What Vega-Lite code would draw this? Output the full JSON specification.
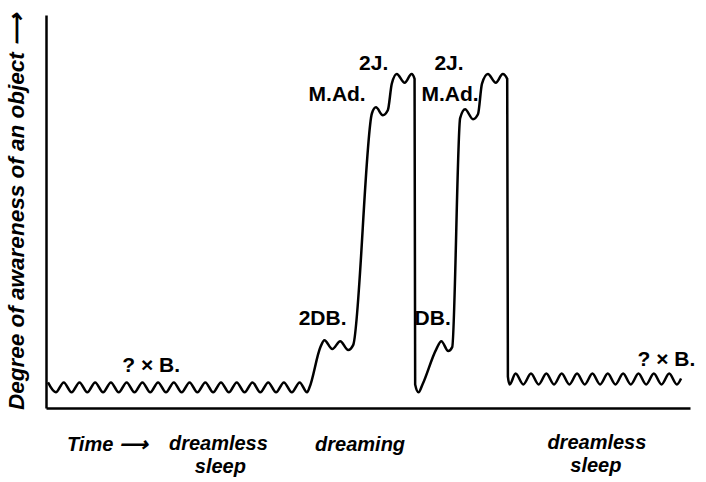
{
  "$schema": "https://vega.github.io/schema/vega-lite/v6.json",
  "width": 644,
  "height": 393,
  "autosize": "none",
  "padding": {"left": 46, "top": 15, "right": 16, "bottom": 74},
  "background": "white",
  "config": {"view": {"stroke": null}, "font": "Liberation Sans"},
  "layer": [
    {
      "data": {"values": [
        {"t": 2, "a": 26}, {"t": 9.9, "a": 16}, {"t": 17.9, "a": 26}, {"t": 25.8, "a": 16},
        {"t": 33.8, "a": 26}, {"t": 41.7, "a": 16}, {"t": 49.6, "a": 26}, {"t": 57.6, "a": 16},
        {"t": 65.5, "a": 26}, {"t": 73.4, "a": 16}, {"t": 81.4, "a": 26}, {"t": 89.3, "a": 16},
        {"t": 97.3, "a": 26}, {"t": 105.2, "a": 16}, {"t": 113.1, "a": 26}, {"t": 121.1, "a": 16},
        {"t": 129, "a": 26}, {"t": 136.9, "a": 16}, {"t": 144.9, "a": 26}, {"t": 152.8, "a": 16},
        {"t": 160.8, "a": 26}, {"t": 168.7, "a": 16}, {"t": 176.6, "a": 26}, {"t": 184.6, "a": 16},
        {"t": 192.5, "a": 26}, {"t": 200.4, "a": 16}, {"t": 208.4, "a": 26}, {"t": 216.3, "a": 16},
        {"t": 224.3, "a": 26}, {"t": 232.2, "a": 16}, {"t": 240.1, "a": 26}, {"t": 248.1, "a": 16},
        {"t": 256, "a": 26}, {"t": 263.5, "a": 16},
        {"t": 266, "a": 21}, {"t": 277, "a": 62},
        {"t": 281, "a": 69}, {"t": 289, "a": 60}, {"t": 297, "a": 68}, {"t": 305, "a": 59},
        {"t": 310, "a": 64}, {"t": 329, "a": 300},
        {"t": 333, "a": 306}, {"t": 340, "a": 298}, {"t": 345, "a": 303}, {"t": 349, "a": 330},
        {"t": 354, "a": 340}, {"t": 362, "a": 331}, {"t": 369, "a": 340}, {"t": 372, "a": 335},
        {"t": 372.6, "a": 24}, {"t": 376, "a": 16}, {"t": 380, "a": 24}, {"t": 394, "a": 60},
        {"t": 399, "a": 68}, {"t": 406, "a": 58}, {"t": 410, "a": 62}, {"t": 418, "a": 295},
        {"t": 423, "a": 304}, {"t": 431, "a": 294}, {"t": 436, "a": 299}, {"t": 440, "a": 330},
        {"t": 446, "a": 340}, {"t": 454, "a": 331}, {"t": 461, "a": 340}, {"t": 465.5, "a": 335},
        {"t": 466.2, "a": 32}, {"t": 468, "a": 24},
        {"t": 474, "a": 35}, {"t": 481.75, "a": 24}, {"t": 489.5, "a": 35}, {"t": 497.25, "a": 24},
        {"t": 505, "a": 35}, {"t": 512.75, "a": 24}, {"t": 520.5, "a": 35}, {"t": 528.25, "a": 24},
        {"t": 536, "a": 35}, {"t": 543.75, "a": 24}, {"t": 551.5, "a": 35}, {"t": 559.25, "a": 24},
        {"t": 567, "a": 35}, {"t": 574.75, "a": 24}, {"t": 582.5, "a": 35}, {"t": 590.25, "a": 24},
        {"t": 598, "a": 35}, {"t": 605.75, "a": 24}, {"t": 613.5, "a": 35}, {"t": 621.25, "a": 24},
        {"t": 629, "a": 35}, {"t": 636.75, "a": 24}, {"t": 641, "a": 30}
      ]},
      "mark": {"type": "line", "interpolate": "monotone", "color": "black", "strokeWidth": 2.5},
      "encoding": {
        "x": {"field": "t", "type": "quantitative", "scale": {"domain": [0, 644]},
          "axis": {"domainColor": "black", "domainWidth": 2.5, "ticks": false, "labels": false, "grid": false, "title": null}},
        "y": {"field": "a", "type": "quantitative", "scale": {"domain": [0, 393]},
          "axis": {"domainColor": "black", "domainWidth": 2.5, "ticks": false, "labels": false, "grid": false,
            "title": "Degree of awareness of an object ⟶", "titleFont": "Liberation Sans", "titleFontStyle": "italic",
            "titleFontWeight": "bold", "titleFontSize": 22.5, "titlePadding": 18, "titleColor": "black"}}
      }
    },
    {
      "data": {"values": [
        {"t": 77, "a": 37, "label": "? × B."},
        {"t": 255, "a": 84, "label": "2DB."},
        {"t": 265, "a": 312, "label": "M.Ad."},
        {"t": 316, "a": 344, "label": "2J."},
        {"t": 392, "a": 344, "label": "2J."},
        {"t": 379, "a": 312, "label": "M.Ad."},
        {"t": 372, "a": 84, "label": "DB."},
        {"t": 597, "a": 43, "label": "? × B."}
      ]},
      "mark": {"type": "text", "align": "left", "baseline": "alphabetic", "fontSize": 21, "fontWeight": "bold", "font": "Liberation Sans", "color": "black"},
      "encoding": {
        "x": {"field": "t", "type": "quantitative"},
        "y": {"field": "a", "type": "quantitative"},
        "text": {"field": "label"}
      }
    },
    {
      "data": {"values": [
        {"t": 62, "a": -44, "label": "Time ⟶"},
        {"t": 174, "a": -43, "label": "dreamless"},
        {"t": 176, "a": -66, "label": "sleep"},
        {"t": 317, "a": -44, "label": "dreaming"},
        {"t": 556, "a": -42, "label": "dreamless"},
        {"t": 555, "a": -65, "label": "sleep"}
      ]},
      "mark": {"type": "text", "align": "center", "baseline": "alphabetic", "fontSize": 20, "fontWeight": "bold", "fontStyle": "italic", "font": "Liberation Sans", "color": "black", "clip": false},
      "encoding": {
        "x": {"field": "t", "type": "quantitative"},
        "y": {"field": "a", "type": "quantitative"},
        "text": {"field": "label"}
      }
    }
  ]
}
